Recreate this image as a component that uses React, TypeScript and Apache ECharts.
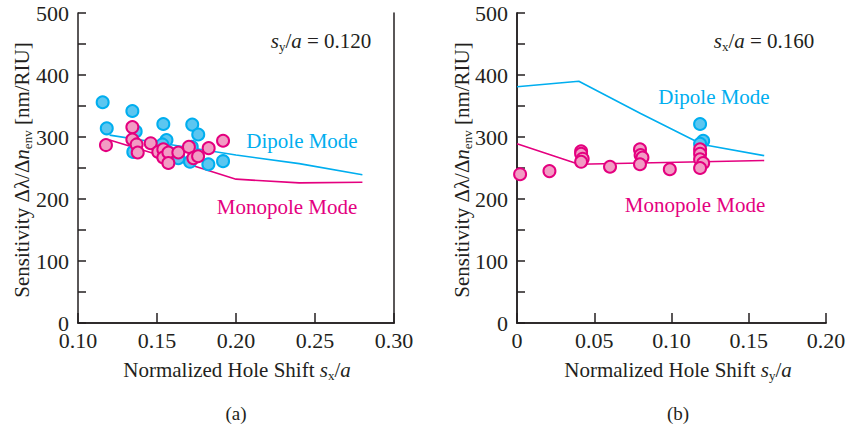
import React, { useEffect, useRef } from "react";
import * as echarts from "echarts";

// ---------- data (panel a: vs sx/a, sy/a = 0.120) ----------
const aDipoleSim: [number, number][] = [
  [0.12, 303], [0.16, 287], [0.2, 271], [0.24, 257], [0.28, 239],
];
const aMonopoleSim: [number, number][] = [
  [0.12, 295], [0.16, 264], [0.2, 232], [0.24, 226], [0.28, 227],
];
const aDipoleExp: [number, number][] = [
  [0.1156, 356], [0.1344, 342], [0.1182, 314], [0.1365, 309], [0.154, 321],
  [0.1723, 320], [0.1761, 304], [0.156, 295], [0.1534, 288], [0.135, 276],
  [0.1635, 266], [0.1709, 260], [0.1825, 256], [0.1918, 261], [0.172, 284],
  [0.158, 274],
];
const aMonopoleExp: [number, number][] = [
  [0.1177, 287], [0.1344, 316], [0.1344, 296], [0.1371, 288], [0.1378, 275],
  [0.146, 290], [0.1508, 276], [0.154, 280], [0.154, 267], [0.1572, 275],
  [0.1572, 258], [0.1635, 275], [0.1702, 284], [0.173, 266], [0.176, 269],
  [0.1827, 282], [0.1918, 294],
];

// ---------- data (panel b: vs sy/a, sx/a = 0.160) ----------
const bDipoleSim: [number, number][] = [
  [0, 381], [0.04, 390], [0.08, 338], [0.12, 288], [0.16, 270],
];
const bMonopoleSim: [number, number][] = [
  [0, 289], [0.04, 256], [0.08, 258], [0.12, 260], [0.16, 262],
];
const bDipoleExp: [number, number][] = [
  [0.1185, 321], [0.1205, 294], [0.1185, 289],
];
const bMonopoleExp: [number, number][] = [
  [0.002, 240], [0.021, 245],
  [0.0415, 277], [0.0415, 273], [0.0425, 265], [0.0415, 260],
  [0.0602, 252],
  [0.0796, 280], [0.08, 271], [0.0812, 267], [0.0796, 256],
  [0.0989, 248],
  [0.1185, 280], [0.1185, 273], [0.1185, 264], [0.1205, 258], [0.1185, 250],
];

const xTicksA = { min: 0.1, max: 0.3, interval: 0.05 };
const xTicksB = { min: 0, max: 0.2, interval: 0.05 };
const yTicks = { min: 0, max: 500, interval: 50 };

const BLUE = "#00aeef";
const BLUE_FILL = "#5cc6f0";
const PINK = "#e4007f";
const PINK_FILL = "#f29cc4";
const INK = "#231f20";
const FONT = "'Liberation Serif', 'Times New Roman', Times, serif";

export default function App() {
  const ref = useRef<HTMLDivElement>(null);
  useEffect(() => {
    if (!ref.current) return;
    const chart = echarts.init(ref.current, null, { renderer: "svg" });

    const grids = [
      { left: 78, right: 456, top: 13, bottom: 111 },
      { left: 517, right: 24, top: 13, bottom: 111 },
    ];

    const axisLine = { show: true, lineStyle: { color: INK, width: 1.5 } };
    const mkX = (gi: number, t: any, fmt: (v: number) => string) => ({
      type: "value", gridIndex: gi, min: t.min, max: t.max, interval: t.interval,
      axisLine, splitLine: { show: false },
      axisTick: { show: true, inside: true, length: 10, lineStyle: { color: INK, width: 1.5 } },
      axisLabel: { fontFamily: FONT, fontSize: 22, color: INK, margin: 6, formatter: fmt },
    });
    const mkXTop = (gi: number, t: any) => ({
      type: "value", gridIndex: gi, position: "top", min: t.min, max: t.max, interval: t.interval,
      axisLine, axisTick: { show: false }, axisLabel: { show: false }, splitLine: { show: false },
    });
    const mkY = (gi: number) => ({
      type: "value", gridIndex: gi, min: yTicks.min, max: yTicks.max, interval: yTicks.interval,
      axisLine, splitLine: { show: false },
      axisTick: { show: true, inside: true, length: 8, lineStyle: { color: INK, width: 1.5 } },
      axisLabel: {
        fontFamily: FONT, fontSize: 22, color: INK, margin: 9,
        formatter: (v: number) => (v % 100 === 0 ? String(v) : ""),
      },
    });
    const mkYRight = (gi: number) => ({
      type: "value", gridIndex: gi, position: "right", min: yTicks.min, max: yTicks.max,
      interval: yTicks.interval,
      axisLine, axisTick: { show: false }, axisLabel: { show: false }, splitLine: { show: false },
    });

    const line = (xi: number, data: any, color: string) => ({
      type: "line", xAxisIndex: xi, yAxisIndex: xi, data, symbol: "none",
      lineStyle: { color, width: 1.6 }, z: 2,
    });
    const scat = (xi: number, data: any, fill: string, stroke: string, z: number) => ({
      type: "scatter", xAxisIndex: xi, yAxisIndex: xi, data, symbolSize: 12,
      itemStyle: { color: fill, borderColor: stroke, borderWidth: 2, opacity: 1 }, z,
    });

    const plain = { fontFamily: FONT, fontSize: 21, fill: INK };
    const rich = {
      r: { fontFamily: FONT, fontSize: 21, color: INK, lineHeight: 24 },
      i: { fontFamily: FONT, fontSize: 21, fontStyle: "italic", color: INK, lineHeight: 24 },
      s: { fontFamily: FONT, fontSize: 13, color: INK, lineHeight: 13, verticalAlign: "bottom" },
    };

    const txt = (x: number, y: number, text: string, extra: any = {}) => ({
      type: "text", x, y,
      style: { text, rich, align: "center", verticalAlign: "middle", ...plain },
      rotation: extra.rotation || 0,
    });
    const label = (x: number, y: number, text: string, color: string, size = 21) => ({
      type: "text", x, y,
      style: { text, fontFamily: FONT, fontSize: size, fill: color, align: "center", verticalAlign: "middle" },
    });

    chart.setOption({
      animation: false,
      grid: grids,
      xAxis: [
        mkX(0, xTicksA, (v: number) => v.toFixed(2)),
        mkX(1, xTicksB, (v: number) => (v === 0 ? "0" : v.toFixed(2))),
        mkXTop(0, xTicksA),
        mkXTop(1, xTicksB),
      ],
      yAxis: [mkY(0), mkY(1), mkYRight(0), mkYRight(1)],
      series: [
        line(0, aDipoleSim, BLUE),
        line(0, aMonopoleSim, PINK),
        scat(0, aDipoleExp, BLUE_FILL, BLUE, 3),
        scat(0, aMonopoleExp, PINK_FILL, PINK, 4),
        line(1, bDipoleSim, BLUE),
        line(1, bMonopoleSim, PINK),
        scat(1, bDipoleExp, BLUE_FILL, BLUE, 3),
        scat(1, bMonopoleExp, PINK_FILL, PINK, 4),
      ],
      graphic: [
        txt(237, 370, "{r|Normalized Hole Shift }{i|s}{s|x}{r|/}{i|a}"),
        txt(678, 370, "{r|Normalized Hole Shift }{i|s}{s|y}{r|/}{i|a}"),
        txt(22, 170, "{r|Sensitivity Δλ/Δ}{i|n}{s|env}{r| [nm/RIU]}", { rotation: Math.PI / 2 }),
        txt(462, 170, "{r|Sensitivity Δλ/Δ}{i|n}{s|env}{r| [nm/RIU]}", { rotation: Math.PI / 2 }),
        txt(321, 41, "{i|s}{s|y}{r|/}{i|a}{r| = 0.120}"),
        txt(764, 41, "{i|s}{s|x}{r|/}{i|a}{r| = 0.160}"),
        label(302, 141, "Dipole Mode", BLUE),
        label(287, 207, "Monopole Mode", PINK),
        label(714, 97, "Dipole Mode", BLUE),
        label(695, 205, "Monopole Mode", PINK),
        label(236, 413, "(a)", INK, 19),
        label(678, 413, "(b)", INK, 19),
      ],
    });
    return () => chart.dispose();
  }, []);
  return <div ref={ref} style={{ width: 850, height: 434, position: "absolute", left: 0, top: 0, background: "#fff" }} />;
}
